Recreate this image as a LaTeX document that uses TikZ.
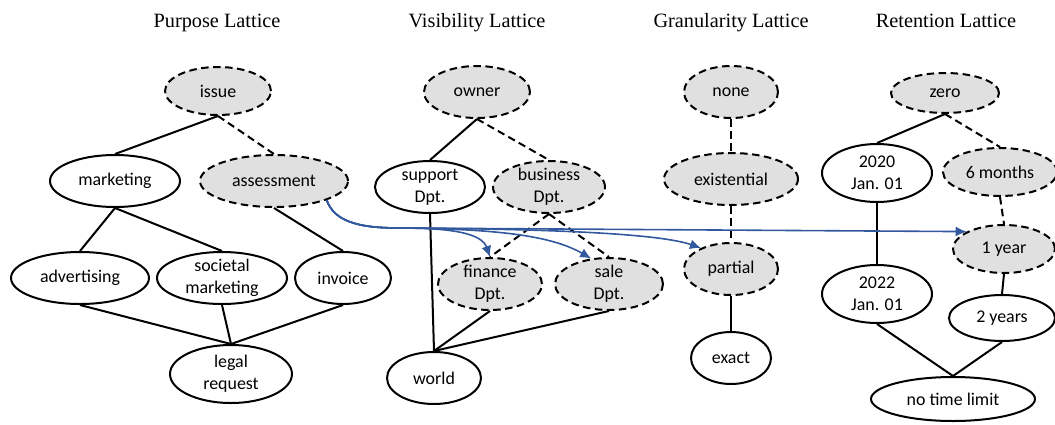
\documentclass[tikz,border=0pt]{standalone}
\usepackage{fontspec}
\setmainfont{Liberation Serif}
\newfontfamily\nodefont{Carlito}
\usetikzlibrary{shapes.geometric,arrows.meta}
\definecolor{optfill}{RGB}{224,224,224}
\definecolor{flowblue}{RGB}{50,88,158}
\tikzset{
  lat/.style={ellipse, draw, line width=2pt, inner xsep=0pt, inner ysep=-5pt,
    align=center, font=\nodefont\fontsize{17.9}{21.7}\selectfont},
  opt/.style={lat, fill=optfill, dash pattern=on 7.5pt off 4.5pt},
  sz/.style 2 args={minimum width=#1pt, minimum height=#2pt},
  edge/.style={line width=2pt},
  dedge/.style={edge, dash pattern=on 7.5pt off 4.5pt},
  flow/.style={draw=flowblue, line width=1.6pt, -{Latex[length=11pt,width=10pt]}},
  heading/.style={anchor=base, font=\fontsize{20.3}{24}\selectfont},
}
\begin{document}
\begin{tikzpicture}[x=1pt, y=-1pt]
\useasboundingbox (0,0) rectangle (1055,424);

% column headings
\node[heading] (tp) at (217,27) {Purpose Lattice};
\node[heading] (tv) at (477,27) {Visibility Lattice};
\node[heading] (tg) at (731,27) {Granularity Lattice};
\node[heading] (tr) at (946,27) {Retention Lattice};

% purpose lattice
\node[opt, sz={106}{48}] (issue) at (218,91) {issue};
\node[lat, sz={130}{52}] (marketing) at (115,181) {marketing};
\node[opt, sz={148}{52}] (assessment) at (274,181) {assessment};
\node[lat, sz={138}{52}] (advertising) at (80,278) {advertising};
\node[lat, sz={130}{52}] (societal) at (222,278) {societal\\marketing};
\node[lat, sz={96}{52}] (invoice) at (343,278) {invoice};
\node[lat, sz={122}{58}] (legal) at (231,374) {legal\\request};

\draw[edge] (issue.south) -- (marketing.north);
\draw[dedge] (issue.south) -- (assessment.north);
\draw[edge] (marketing.south) -- (advertising.north);
\draw[edge] (marketing.south) -- (societal.north);
\draw[edge] (assessment.south) -- (invoice.north);
\draw[edge] (advertising.south) -- (legal.north);
\draw[edge] (societal.south) -- (legal.north);
\draw[edge] (invoice.south) -- (legal.north);

% visibility lattice
\node[opt, sz={106}{52}] (owner) at (477,92) {owner};
\node[lat, sz={110}{52}] (support) at (430,187) {support\\Dpt.};
\node[opt, sz={112}{52}] (business) at (549,187) {business\\Dpt.};
\node[opt, sz={104}{52}] (finance) at (490,284) {finance\\Dpt.};
\node[opt, sz={108}{52}] (sale) at (609,284) {sale\\Dpt.};
\node[lat, sz={94}{52}] (world) at (434,378) {world};

\draw[edge] (owner.south) -- (support.north);
\draw[dedge] (owner.south) -- (business.north);
\draw[dedge] (business.south) -- (finance.north);
\draw[dedge] (business.south) -- (sale.north);
\draw[edge] (support.south) -- (world.north);
\draw[edge] (finance.south) -- (world.north);
\draw[edge] (sale.south) -- (world.north);

% granularity lattice
\node[opt, sz={94}{52}] (none) at (731,92) {none};
\node[opt, sz={134}{52}] (existential) at (731,179) {existential};
\node[opt, sz={94}{52}] (partial) at (731,269) {partial};
\node[lat, sz={80}{52}] (exact) at (731,358) {exact};

\draw[dedge] (none.south) -- (existential.north);
\draw[dedge] (existential.south) -- (partial.north);
\draw[edge] (partial.south) -- (exact.north);

% retention lattice
\node[opt, sz={108}{40}] (zero) at (945,93) {zero};
\node[lat, sz={110}{58}] (y2020) at (877,173) {2020\\Jan. 01};
\node[opt, sz={114}{48}] (sixm) at (1000,172) {6 months};
\node[opt, sz={102}{48}] (oneyear) at (1004,249) {1 year};
\node[lat, sz={110}{58}] (y2022) at (877,294) {2022\\Jan. 01};
\node[lat, sz={106}{46}] (twoy) at (1002,318) {2 years};
\node[lat, sz={164}{44}] (nolimit) at (953,399) {no time limit};

\draw[edge] (zero.south) -- (y2020.north);
\draw[dedge] (zero.south) -- (sixm.north);
\draw[dedge] (sixm.south) -- (oneyear.north);
\draw[edge] (oneyear.south) -- (twoy.north);
\draw[edge] (y2020.south) -- (y2022.north);
\draw[edge] (y2022.south) -- (nolimit.north);
\draw[edge] (twoy.south) -- (nolimit.north);

% mapping arrows from the assessment purpose
\coordinate (hub) at (400,228);
\draw[flow] (assessment.-20) .. controls (335,224) and (365,228) .. (hub)
  .. controls (455,228) and (482,234) .. (finance.north);
\draw[flow] (assessment.-20) .. controls (335,224) and (365,228) .. (hub)
  .. controls (500,229) and (552,236) .. (sale.125);
\draw[flow] (assessment.-20) .. controls (335,224) and (365,228) .. (hub)
  .. controls (560,229) and (660,234) .. (partial.145);
\draw[flow] (assessment.-20) .. controls (335,224) and (365,228) .. (hub)
  -- (oneyear.155);
\end{tikzpicture}
\end{document}
